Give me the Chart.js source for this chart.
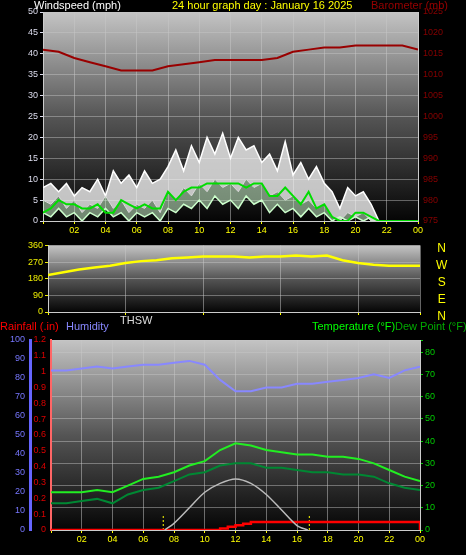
<!DOCTYPE html>
<html><head><meta charset="utf-8">
<script src="https://cdn.jsdelivr.net/npm/chart.js@4"></script>
<style>
body{margin:0;background:#000;width:466px;height:555px;position:relative;overflow:hidden;font-family:"Liberation Sans",Arial,sans-serif}
.box{position:absolute;left:0;width:466px}
.t{position:absolute;font-size:11px;white-space:nowrap;line-height:12px}
</style></head><body>
<div class="box" style="top:0;height:240px"><canvas id="c1"></canvas></div>
<div class="box" style="top:238px;height:94px"><canvas id="c2"></canvas></div>
<div class="box" style="top:332px;height:223px"><canvas id="c3"></canvas></div>
<div class="t" style="left:34px;top:-1px;color:#fff">Windspeed (mph)</div>
<div class="t" style="left:172px;top:-1px;color:#ff0">24 hour graph day : January 16 2025</div>
<div class="t" style="left:371px;top:-1px;color:#900">Barometer (mb)</div>
<div class="t" style="left:436px;top:240px;color:#ff0;font-size:12px;line-height:17px;text-align:center">N<br>W<br>S<br>E<br>N</div>
<div class="t" style="left:0;top:320px;color:#f00">Rainfall (.in)</div>
<div class="t" style="left:66px;top:320px;color:#88f">Humidity</div>
<div class="t" style="left:120px;top:314px;color:#ddd">THSW</div>
<div class="t" style="left:312px;top:320px;color:#0f0">Temperature (°F)</div>
<div class="t" style="left:395px;top:320px;color:#0a0">Dew Point (°F)</div>
<script>
const half = Array.from({length: 49}, (_, i) => i / 2);
const hours = Array.from({length: 25}, (_, i) => i);

const windGust = [8,9,7,9,6,8,7,10,6,12,9,11,8,12,9,10,13,17,12,18,14,20,16,21,15,20,17,18,14,16,12,19,11,14,10,13,9,7,3,8,6,7,4,0,0,0,0,0,0];
const windLow = [5,4,6,3,5,2,4,3,6,3,5,2,4,3,5,2,7,5,8,6,9,7,10,8,9,7,10,8,9,6,7,5,6,4,5,3,4,1,0,2,1,2,0,0,0,0,0,0,0];
const windSpeed = [2,1,3,1,2,0,2,1,3,1,2,0,2,1,2,0,3,2,4,3,5,3,6,4,5,3,6,4,5,2,4,2,3,1,3,1,2,0,1,0,1,0,1,0,0,0,0,0,0];
const windAvg = [2,3,5,4,4,3,3,4,2,2,5,4,3,4,3,3,7,5,7,8,8,9,9,9,9,9,8,9,9,6,6,8,6,4,7,3,4,1,0,0,2,2,1,0,0,0,0,0,0];
const barometer = [1016,1015.5,1014,1013,1012,1011,1011,1011,1012,1012.5,1013,1013.5,1013.5,1013.5,1013.5,1014,1015.5,1016,1016.5,1016.5,1017,1017,1017,1017,1016];
const windDir = [200,215,230,240,250,265,275,280,290,295,300,300,300,295,300,300,305,300,305,280,265,255,250,250,250];
const humidity = [84,84,85,86,85,86,87,87,88,89,87,79,73,73,75,75,77,77,78,79,80,82,80,84,86];
const temperature = [17,17,17,18,17,20,23,24,26,29,31,36,39,38,36,35,34,34,33,33,32,30,27,24,22];
const dewPoint = [12,12,13,14,12,16,18,19,22,25,26,29,30,30,28,28,27,26,26,25,25,24,21,19,18];
const thswX = [7.4,8,9,10,11,12,13,14,15,16,16.7];
const thswY = [0,3,10,17,21,23,21,16,9,2,0];
const rainX = [0,10.8,11,11.5,12,12.5,13,24,24];
const rainY = [0,0,0.01,0.02,0.03,0.04,0.05,0.05,0];
const sunTimes = [7.3, 16.8];

const pts = (xs, ys) => xs.map((x, i) => ({x, y: ys[i]}));
const gradBg = {
  id: 'gradBg',
  beforeDraw(ch) {
    const a = ch.chartArea, c = ch.ctx;
    const g = c.createLinearGradient(0, a.top, 0, a.bottom);
    g.addColorStop(0, '#c4c4c4'); g.addColorStop(0.5, '#555'); g.addColorStop(1, '#050505');
    c.save(); c.fillStyle = g; c.fillRect(a.left, a.top, a.width, a.height); c.restore();
  }
};
const font = {family: 'Liberation Sans', size: 9};
function xAxis(h) {
  return {type: 'linear', min: 0, max: 24,
    grid: {color: 'rgba(200,200,200,0.5)', tickColor: '#ff0', tickLength: 3},
    border: {color: '#ccc'},
    ticks: {stepSize: 2, color: '#ff0', font, padding: 1, autoSkip: false, maxRotation: 0,
      callback: v => v === 0 ? '' : String(v % 24).padStart(2, '0')},
    afterFit: s => { s.height = h || 19; }};
}
function yAxis(pos, min, max, step, color, width, opts = {}) {
  return {position: pos, min, max,
    grid: {display: !!opts.grid, color: 'rgba(200,200,200,0.45)', tickColor: color, tickLength: 3},
    border: {color: opts.border || '#ccc', width: opts.bw || 1},
    ticks: {stepSize: step, color, font, padding: 2, autoSkip: false,
      callback: v => (opts.cb ? opts.cb(v) : String(Math.round(v * 10) / 10))},
    afterFit: s => { s.width = width; }};
}
function make(id, w, h, padTop, datasets, scales) {
  const cv = document.getElementById(id);
  cv.width = w; cv.height = h;
  return new Chart(cv, {type: 'line', data: {datasets}, plugins: [gradBg],
    options: {responsive: false, animation: false, devicePixelRatio: 1,
      layout: {padding: {top: padTop, right: 0, left: 0, bottom: 0}},
      plugins: {legend: {display: false}, tooltip: {enabled: false}},
      elements: {point: {radius: 0}, line: {borderWidth: 1.5, tension: 0}},
      scales}});
}

make('c1', 466, 240, 12, [
  {data: pts(hours, barometer), yAxisID: 'yb', borderColor: '#900', borderWidth: 2},
  {data: pts(half, windAvg), yAxisID: 'y', borderColor: '#0d0', borderWidth: 2},
  {data: pts(half, windSpeed), yAxisID: 'y', borderColor: '#cfc', borderWidth: 1.5},
  {data: pts(half, windLow), yAxisID: 'y', borderColor: '#ddd', borderWidth: 1, fill: '-1', backgroundColor: 'rgba(200,240,200,0.55)'},
  {data: pts(half, windGust), yAxisID: 'y', borderColor: '#fff', borderWidth: 1.5, fill: '-1', backgroundColor: 'rgba(240,240,240,0.8)'},
], {x: xAxis(), y: yAxis('left', 0, 50, 5, '#dde', 43, {grid: true}), yb: yAxis('right', 975, 1025, 5, '#800', 48)});

make('c2', 466, 94, 7, [
  {data: pts(hours, windDir), yAxisID: 'y', borderColor: '#ff0', borderWidth: 2.5},
], {x: {...xAxis(20), ticks: {display: false}},
   y: yAxis('left', 0, 360, 90, '#ee0', 48, {grid: true}),
   yr: {...yAxis('right', 0, 360, 90, '#000', 46), ticks: {display: false}, border: {display: false}}});

make('c3', 466, 223, 8, [
  {data: pts(hours, humidity), yAxisID: 'yh', borderColor: '#88f', borderWidth: 2},
  {data: pts(hours, temperature), yAxisID: 'yt', borderColor: '#2e2', borderWidth: 2},
  {data: pts(hours, dewPoint), yAxisID: 'yt', borderColor: '#083', borderWidth: 2},
  {data: pts(thswX, thswY), yAxisID: 'yt', borderColor: '#bbb', borderWidth: 1.5, tension: 0.3},
  {data: pts(rainX, rainY), yAxisID: 'yr', borderColor: '#f00', borderWidth: 2.5, stepped: true},
  ...sunTimes.map(t => ({data: [{x: t, y: 0}, {x: t, y: 0.1}], yAxisID: 'yr', borderColor: '#ff0', borderWidth: 1, borderDash: [2, 2]})),
], {x: xAxis(25),
   yr: yAxis('left', 0, 1.2, 0.1, '#d00', 21, {border: '#f66', bw: 2, cb: v => String(Math.round(v * 10) / 10)}),
   yh: yAxis('left', 0, 100, 10, '#77f', 30, {border: '#66f', bw: 3}),
   yt: yAxis('right', 0, 85.5, 10, '#0c0', 46, {grid: true, cb: v => v % 10 === 0 ? String(v) : ''})});
</script>
</body></html>
